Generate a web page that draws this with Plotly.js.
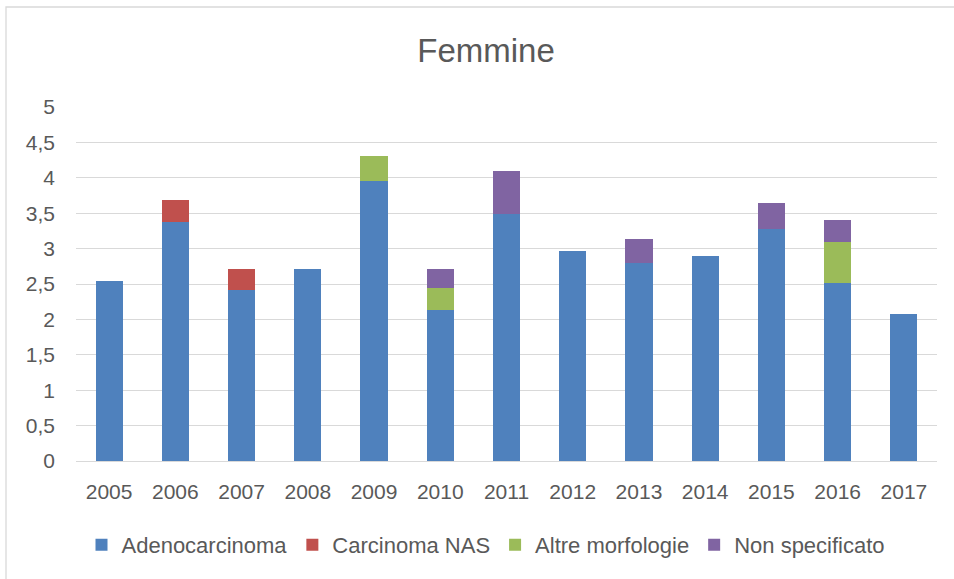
<!DOCTYPE html>
<html>
<head>
<meta charset="utf-8">
<script src="https://cdn.plot.ly/plotly-3.0.1.min.js"></script>
<style>
  html, body { margin: 0; padding: 0; background: #ffffff; }
  #chart { width: 954px; height: 579px; }
</style>
</head>
<body>
<div id="chart"></div>
<script>
const years = ['2005','2006','2007','2008','2009','2010','2011','2012','2013','2014','2015','2016','2017'];
const adenocarcinoma = [2.54, 3.37, 2.41, 2.71, 3.95, 2.13, 3.49, 2.96, 2.79, 2.89, 3.27, 2.51, 2.08];
const carcinomaNAS   = [0, 0.32, 0.30, 0, 0, 0, 0, 0, 0, 0, 0, 0, 0];
const altreMorfologie = [0, 0, 0, 0, 0.36, 0.32, 0, 0, 0, 0, 0, 0.58, 0];
const nonSpecificato = [0, 0, 0, 0, 0, 0.26, 0.60, 0, 0.34, 0, 0.38, 0.31, 0];
const seriesNames = ['Adenocarcinoma', 'Carcinoma NAS', 'Altre morfologie', 'Non specificato'];
const seriesColors = ['#4F81BD', '#C0504D', '#9BBB59', '#8064A2'];
const yTickVals = [0, 0.5, 1, 1.5, 2, 2.5, 3, 3.5, 4, 4.5, 5];
const yTickText = ['0', '0,5', '1', '1,5', '2', '2,5', '3', '3,5', '4', '4,5', '5'];

const FONT = 'Liberation Sans, Arial, sans-serif';
const seriesValues = [adenocarcinoma, carcinomaNAS, altreMorfologie, nonSpecificato];
const traces = seriesValues.map((vals, i) => ({
  type: 'bar',
  name: seriesNames[i],
  x: years,
  y: vals,
  marker: { color: seriesColors[i], line: { width: 0 } },
  hoverinfo: 'x+y+name'
}));

// plot area in pixels: x 76..937, y 107..461
const L = 76, R = 954 - 937, T = 107, B = 579 - 461;
const pw = 954 - L - R, ph = 579 - T - B;

const layout = {
  width: 954, height: 579,
  margin: { l: L, r: R, t: T, b: B, pad: 0 },
  paper_bgcolor: '#ffffff', plot_bgcolor: '#ffffff',
  font: { family: FONT, color: '#595959' },
  title: {
    text: 'Femmine',
    font: { family: FONT, size: 33, color: '#595959' },
    xref: 'container', x: 486 / 954, xanchor: 'center',
    yref: 'container', y: 1 - 50 / 579, yanchor: 'middle'
  },
  barmode: 'stack',
  bargap: 0.59,
  xaxis: {
    type: 'category',
    tickfont: { family: FONT, size: 21, color: '#595959' },
    ticks: '', showgrid: false, zeroline: false, showline: false,
    ticklabelstandoff: 16
  },
  yaxis: {
    range: [0, 5],
    tickvals: yTickVals, ticktext: yTickText,
    tickfont: { family: FONT, size: 21, color: '#595959' },
    ticks: '', showgrid: true, gridcolor: '#D9D9D9', gridwidth: 1.3,
    zeroline: true, zerolinecolor: '#D9D9D9', zerolinewidth: 1.3,
    showline: false, ticklabelstandoff: 20
  },
  showlegend: true,
  legend: {
    orientation: 'h',
    x: (486 - L) / pw, xanchor: 'center',
    y: -(545 - 461) / ph, yanchor: 'middle',
    font: { family: FONT, size: 22, color: '#595959' },
    traceorder: 'normal',
    bgcolor: 'rgba(0,0,0,0)'
  },
  shapes: [{
    type: 'rect', xref: 'paper', yref: 'paper',
    x0: (6 - L) / pw, x1: (970 - L) / pw,
    y0: -(600 - 461) / ph, y1: 1 + (T - 7) / ph,
    line: { color: '#D9D9D9', width: 1.3 }, fillcolor: 'rgba(0,0,0,0)',
    layer: 'below'
  }]
};

Plotly.newPlot('chart', traces, layout, { displayModeBar: false, responsive: false });
</script>
</body>
</html>
